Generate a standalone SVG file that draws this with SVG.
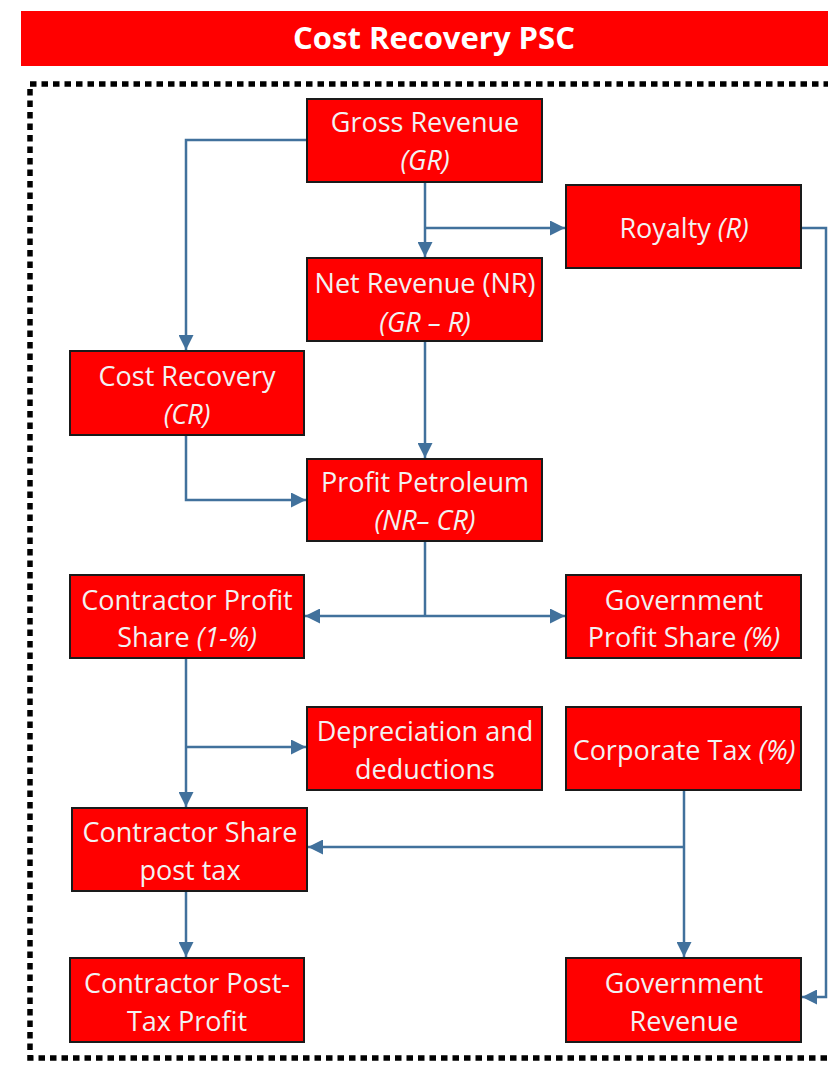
<svg xmlns="http://www.w3.org/2000/svg" width="828" height="1065" viewBox="0 0 828 1065">
  <style>
    .box { fill: #FF0000; stroke: #1a1a1a; stroke-width: 2; }
    .lbl { font-family: "Open Sans", "Liberation Sans", sans-serif; font-size: 27px; fill: #F2F2F2; text-anchor: middle; }
    .it { font-style: italic; }
    .title { font-family: "Open Sans", "Liberation Sans", sans-serif; font-size: 31px; font-weight: bold; fill: #FFFFFF; text-anchor: middle; }
    .conn { fill: none; stroke: #41719C; stroke-width: 2.5; }
    .frame { fill: none; stroke: #000000; stroke-width: 5.5; stroke-dasharray: 6.5 5; }
  </style>
  <defs>
    <marker id="arrow" viewBox="0 0 10 10" refX="10" refY="5" markerWidth="6" markerHeight="6" markerUnits="strokeWidth" orient="auto-start-reverse">
      <path d="M0,0 L10,5 L0,10 Z" fill="#41719C"/>
    </marker>
  </defs>

  <rect x="0" y="0" width="828" height="1065" fill="#FFFFFF"/>

  <!-- title bar -->
  <g id="title">
    <rect x="21" y="11" width="810" height="55" fill="#FF0000"/>
    <text class="title" x="434" y="49">Cost Recovery PSC</text>
  </g>

  <!-- dotted frame -->
  <rect class="frame" x="30" y="84" width="820" height="974"/>

  <!-- connectors -->
  <g id="connectors">
    <polyline class="conn" points="307,140 186,140 186,350" marker-end="url(#arrow)"/>
    <line class="conn" x1="425" y1="182" x2="425" y2="257" marker-end="url(#arrow)"/>
    <line class="conn" x1="425" y1="228" x2="565" y2="228" marker-end="url(#arrow)"/>
    <polyline class="conn" points="802,228 826,228 826,997 802,997" marker-end="url(#arrow)"/>
    <line class="conn" x1="425" y1="341" x2="425" y2="458" marker-end="url(#arrow)"/>
    <polyline class="conn" points="186,435 186,500 306,500" marker-end="url(#arrow)"/>
    <line class="conn" x1="425" y1="541" x2="425" y2="616"/>
    <line class="conn" x1="305" y1="616" x2="565" y2="616" marker-start="url(#arrow)" marker-end="url(#arrow)"/>
    <line class="conn" x1="186" y1="658" x2="186" y2="807" marker-end="url(#arrow)"/>
    <line class="conn" x1="186" y1="747" x2="306" y2="747" marker-end="url(#arrow)"/>
    <line class="conn" x1="684" y1="790" x2="684" y2="957" marker-end="url(#arrow)"/>
    <line class="conn" x1="684" y1="847" x2="308" y2="847" marker-end="url(#arrow)"/>
    <line class="conn" x1="186" y1="891" x2="186" y2="957" marker-end="url(#arrow)"/>
  </g>

  <!-- nodes -->
  <g id="gross-revenue">
    <rect class="box" x="307" y="99" width="235" height="83"/>
    <text class="lbl" x="425" y="132">Gross Revenue</text>
    <text class="lbl it" x="425" y="170">(GR)</text>
  </g>
  <g id="royalty">
    <rect class="box" x="566" y="185" width="235" height="83"/>
    <text class="lbl" x="684" y="238">Royalty <tspan class="it">(R)</tspan></text>
  </g>
  <g id="net-revenue">
    <rect class="box" x="307" y="258" width="235" height="83"/>
    <text class="lbl" x="425" y="293">Net Revenue (NR)</text>
    <text class="lbl it" x="425" y="332">(GR – R)</text>
  </g>
  <g id="cost-recovery">
    <rect class="box" x="70" y="351" width="234" height="84"/>
    <text class="lbl" x="187" y="386">Cost Recovery</text>
    <text class="lbl it" x="187" y="424">(CR)</text>
  </g>
  <g id="profit-petroleum">
    <rect class="box" x="307" y="459" width="235" height="82"/>
    <text class="lbl" x="425" y="492">Profit Petroleum</text>
    <text class="lbl it" x="425" y="530">(NR– CR)</text>
  </g>
  <g id="contractor-profit-share">
    <rect class="box" x="70" y="575" width="234" height="83"/>
    <text class="lbl" x="187" y="610">Contractor Profit</text>
    <text class="lbl" x="187" y="647">Share <tspan class="it">(1-%)</tspan></text>
  </g>
  <g id="government-profit-share">
    <rect class="box" x="566" y="575" width="235" height="83"/>
    <text class="lbl" x="684" y="610">Government</text>
    <text class="lbl" x="684" y="647">Profit Share <tspan class="it">(%)</tspan></text>
  </g>
  <g id="depreciation">
    <rect class="box" x="307" y="707" width="235" height="83"/>
    <text class="lbl" x="425" y="741">Depreciation and</text>
    <text class="lbl" x="425" y="779">deductions</text>
  </g>
  <g id="corporate-tax">
    <rect class="box" x="566" y="707" width="235" height="83"/>
    <text class="lbl" x="684" y="760">Corporate Tax <tspan class="it">(%)</tspan></text>
  </g>
  <g id="contractor-share-post-tax">
    <rect class="box" x="72" y="808" width="235" height="83"/>
    <text class="lbl" x="190" y="842">Contractor Share</text>
    <text class="lbl" x="190" y="880">post tax</text>
  </g>
  <g id="contractor-post-tax-profit">
    <rect class="box" x="70" y="958" width="234" height="84"/>
    <text class="lbl" x="187" y="993">Contractor Post-</text>
    <text class="lbl" x="187" y="1031">Tax Profit</text>
  </g>
  <g id="government-revenue">
    <rect class="box" x="566" y="958" width="235" height="84"/>
    <text class="lbl" x="684" y="993">Government</text>
    <text class="lbl" x="684" y="1031">Revenue</text>
  </g>
</svg>
